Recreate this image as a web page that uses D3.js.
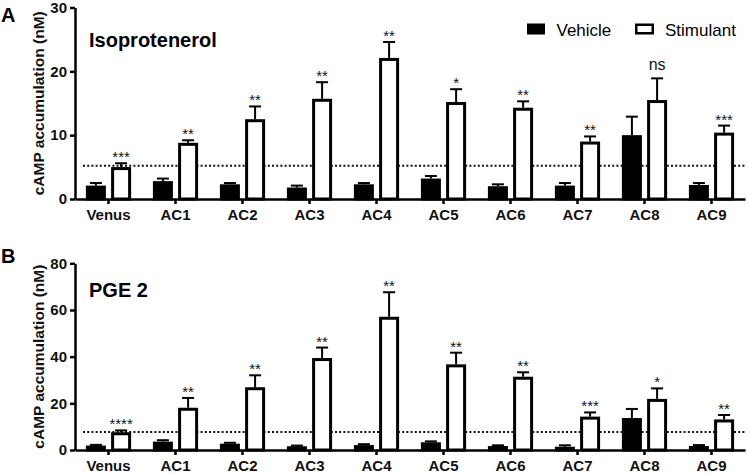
<!DOCTYPE html>
<html>
<head>
<meta charset="utf-8">
<script src="https://cdn.jsdelivr.net/npm/d3@7"></script>
<style>
  html, body { margin: 0; padding: 0; background: #fff; }
  svg { display: block; font-family: "Liberation Sans", Arial, sans-serif; }
</style>
</head>
<body>
<svg id="chart" width="749" height="473"></svg>
<script>
const categories = ["Venus", "AC1", "AC2", "AC3", "AC4", "AC5", "AC6", "AC7", "AC8", "AC9"];

// Panel A: Isoproterenol
const isoVehicle    = [2.1, 2.8, 2.3, 1.8, 2.3, 3.2, 2.0, 2.1, 10.0, 2.2];
const isoVehicleErr = [0.4, 0.4, 0.2, 0.3, 0.2, 0.4, 0.3, 0.4, 2.9, 0.3];
const isoStim       = [5.0, 8.8, 12.5, 15.7, 22.1, 15.2, 14.3, 9.0, 15.5, 10.4];
const isoStimErr    = [0.6, 0.4, 2.0, 2.6, 2.5, 2.0, 1.0, 0.8, 3.4, 1.1];
const isoSig        = ["***", "**", "**", "**", "**", "*", "**", "**", "ns", "***"];
const isoBaseline   = 5.2;
const isoTicks      = [0, 10, 20, 30];

// Panel B: PGE 2
const pgeVehicle    = [1.9, 3.6, 2.7, 1.6, 2.1, 3.3, 1.7, 1.4, 13.7, 1.7];
const pgeVehicleErr = [0.3, 0.6, 0.4, 0.3, 0.4, 0.4, 0.3, 0.6, 3.9, 0.4];
const pgeStim       = [7.6, 18.1, 26.9, 39.4, 57.1, 36.7, 31.4, 14.3, 21.9, 13.1];
const pgeStimErr    = [0.8, 4.2, 5.1, 4.5, 10.5, 5.0, 1.9, 1.8, 4.5, 1.9];
const pgeSig        = ["****", "**", "**", "**", "**", "**", "**", "***", "*", "**"];
const pgeBaseline   = 7.7;
const pgeTicks      = [0, 20, 40, 60, 80];

const legendLabels = ["Vehicle", "Stimulant"];
const yTitle = "cAMP accumulation (nM)";

const svg = d3.select("#chart");

function drawPanel(cfg) {
  const g = svg.append("g");
  const x = d3.scaleBand().domain(categories).range([75, 745]).padding(0);
  const y = d3.scaleLinear().domain([0, cfg.ymax]).range([cfg.y0, cfg.ytop]);
  const barW = 20, sw = 3, off = 12.6;

  // dotted baseline
  g.append("line")
    .attr("x1", 83).attr("x2", 745)
    .attr("y1", y(cfg.baseline)).attr("y2", y(cfg.baseline))
    .attr("stroke", "#111").attr("stroke-width", 2)
    .attr("stroke-dasharray", "2,2.2");

  const rows = categories.map((c, i) => ({
    c, veh: cfg.veh[i], vehErr: cfg.vehErr[i], stim: cfg.stim[i], stimErr: cfg.stimErr[i], sig: cfg.sig[i]
  }));

  const series = [
    { key: "veh", err: "vehErr", dx: -off, fill: "#000" },
    { key: "stim", err: "stimErr", dx: off, fill: "#fff" }
  ];

  series.forEach(s => {
    const cx = d => x(d.c) + x.bandwidth() / 2 + s.dx;
    // error bars
    g.selectAll(null).data(rows).enter().append("line")
      .attr("x1", cx).attr("x2", cx)
      .attr("y1", d => y(d[s.key])).attr("y2", d => y(d[s.key] + d[s.err]))
      .attr("stroke", "#000").attr("stroke-width", 2);
    g.selectAll(null).data(rows).enter().append("line")
      .attr("x1", d => cx(d) - 6).attr("x2", d => cx(d) + 6)
      .attr("y1", d => y(d[s.key] + d[s.err])).attr("y2", d => y(d[s.key] + d[s.err]))
      .attr("stroke", "#000").attr("stroke-width", 2);
    // bars
    g.selectAll(null).data(rows).enter().append("rect")
      .attr("x", d => cx(d) - (barW - sw) / 2)
      .attr("width", barW - sw)
      .attr("y", d => y(d[s.key]) + sw / 2)
      .attr("height", d => Math.max(0, cfg.y0 - y(d[s.key]) - sw / 2))
      .attr("fill", s.fill).attr("stroke", "#000").attr("stroke-width", sw);
  });

  // significance labels
  g.selectAll(null).data(rows).enter().append("text")
    .attr("x", d => x(d.c) + x.bandwidth() / 2 + off)
    .attr("y", d => y(d.stim + d.stimErr) - (d.sig === "ns" ? 8 : 1))
    .attr("text-anchor", "middle")
    .attr("font-size", d => d.sig === "ns" ? 16 : 15)
    .attr("fill", "#111")
    .text(d => d.sig);

  // axes
  const yAxis = d3.axisLeft(y).tickValues(cfg.ticks).tickSize(5).tickSizeOuter(0).tickPadding(3);
  const ya = g.append("g").attr("transform", "translate(75,0)").call(yAxis);
  ya.select(".domain").attr("stroke-width", 2.5);
  ya.selectAll(".tick line").attr("stroke-width", 2.5);
  ya.selectAll("text").attr("font-size", 15).attr("font-weight", "bold").attr("fill", "#111")
    .attr("font-family", "Liberation Sans, Arial, sans-serif");

  const xAxis = d3.axisBottom(x).tickSize(5).tickSizeOuter(0).tickPadding(5);
  const xa = g.append("g").attr("transform", `translate(0,${cfg.y0})`).call(xAxis);
  xa.select(".domain").attr("stroke-width", 2.5);
  xa.selectAll(".tick line").attr("stroke-width", 2.5);
  xa.selectAll("text").attr("font-size", 15).attr("font-weight", "bold").attr("fill", "#111")
    .attr("font-family", "Liberation Sans, Arial, sans-serif");

  // y title
  const ymid = (cfg.y0 + cfg.ytop) / 2;
  g.append("text")
    .attr("transform", `translate(44,${ymid}) rotate(-90)`)
    .attr("text-anchor", "middle")
    .attr("font-size", 15.5).attr("font-weight", "bold").attr("fill", "#111")
    .text(yTitle);

  // panel letter
  g.append("text").attr("x", 1).attr("y", cfg.letterY)
    .attr("font-size", 20).attr("font-weight", "bold").attr("fill", "#000")
    .text(cfg.letter);

  // stimulant title
  g.append("text").attr("x", 89).attr("y", cfg.titleY)
    .attr("font-size", 20).attr("font-weight", "bold").attr("fill", "#000")
    .text(cfg.title);
}

drawPanel({
  letter: "A", letterY: 22, title: "Isoprotenerol", titleY: 46.5,
  ymax: 30, y0: 199, ytop: 7.5, ticks: isoTicks, baseline: isoBaseline,
  veh: isoVehicle, vehErr: isoVehicleErr, stim: isoStim, stimErr: isoStimErr, sig: isoSig
});

drawPanel({
  letter: "B", letterY: 263, title: "PGE 2", titleY: 296.5,
  ymax: 80, y0: 450, ytop: 263.3, ticks: pgeTicks, baseline: pgeBaseline,
  veh: pgeVehicle, vehErr: pgeVehicleErr, stim: pgeStim, stimErr: pgeStimErr, sig: pgeSig
});

// legend
const leg = svg.append("g");
leg.append("rect").attr("x", 527).attr("y", 23.5).attr("width", 18).attr("height", 11).attr("fill", "#000");
leg.append("text").attr("x", 556.5).attr("y", 35.5).attr("font-size", 17).attr("fill", "#000").text(legendLabels[0]);
leg.append("rect").attr("x", 636.25).attr("y", 24.75).attr("width", 16.5).attr("height", 8.5)
  .attr("fill", "#fff").attr("stroke", "#000").attr("stroke-width", 2.5);
leg.append("text").attr("x", 665).attr("y", 35.5).attr("font-size", 17).attr("fill", "#000").text(legendLabels[1]);
</script>
</body>
</html>
